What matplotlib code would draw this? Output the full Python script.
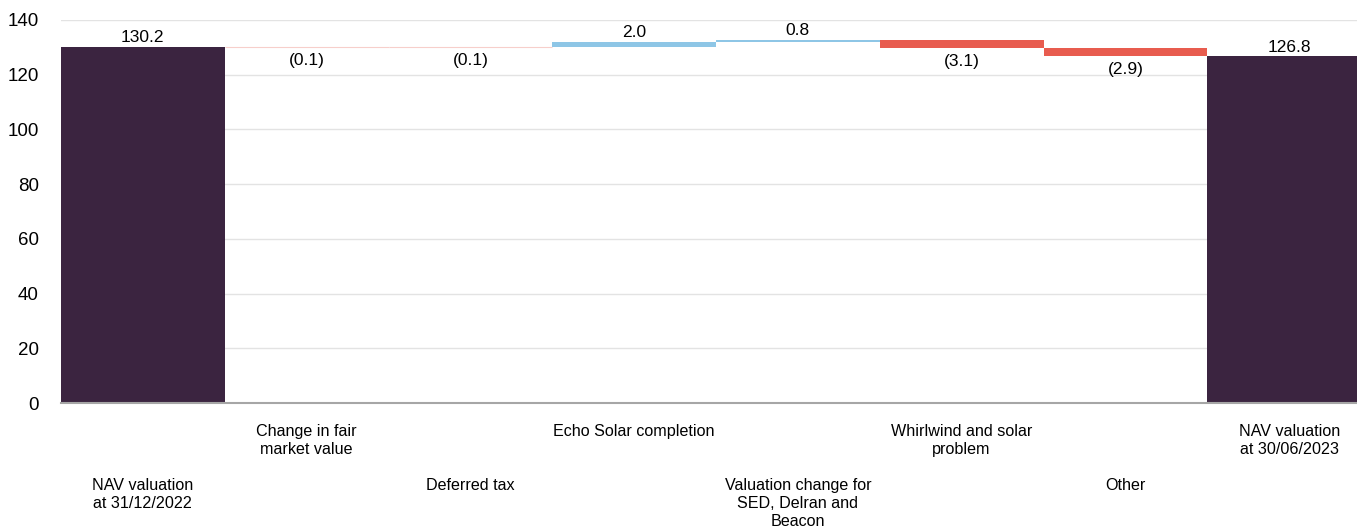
import numpy as np
import matplotlib.pyplot as plt

plt.rcParams['font.family'] = ['Liberation Sans', 'DejaVu Sans']

# Data
categories = ['NAV valuation\nat 31/12/2022', 'Change in fair\nmarket value', 'Deferred tax',
              'Echo Solar completion', 'Valuation change for\nSED, Delran and\nBeacon',
              'Whirlwind and solar\nproblem', 'Other', 'NAV valuation\nat 30/06/2023']
start_value = 130.2
changes = [-0.1, -0.1, 2.0, 0.8, -3.1, -2.9]
end_value = 126.8

total_color = '#3B2440'
up_color = '#8EC6E6'
down_color = '#E85C4F'

fig = plt.figure(figsize=(13.57, 5.30), dpi=100)
# plot area runs a little past the right edge of the picture, as in the source
ax = fig.add_axes([61 / 1357, 127 / 530, 1310 / 1357, (403 - 20) / 530])

# start total
ax.bar(0, start_value, width=1.0, color=total_color, zorder=3)
ax.annotate(f'{start_value:.1f}', (0, start_value), xytext=(0, 1), textcoords='offset points',
            ha='center', va='bottom', fontsize=12.5)

running = start_value
for i, ch in enumerate(changes, start=1):
    if ch >= 0:
        ax.bar(i, ch, bottom=running, width=1.0, color=up_color, zorder=3)
        ax.annotate(f'{ch:.1f}', (i, running + ch), xytext=(0, 1), textcoords='offset points',
                    ha='center', va='bottom', fontsize=12.5)
    else:
        if abs(ch) > 0.5:
            ax.bar(i, ch, bottom=running, width=1.0, color=down_color, zorder=3)
        else:
            # tiny moves show only as a faint line
            ax.bar(i, ch, bottom=running, width=1.0, color='#F7CFCB',
                   edgecolor='#F7CFCB', linewidth=0.8, zorder=3)
        ax.annotate(f'({abs(ch):.1f})', (i, running + ch), xytext=(0, -4), textcoords='offset points',
                    ha='center', va='top', fontsize=12.5)
    running += ch

n = len(categories) - 1
ax.bar(n, end_value, width=1.0, color=total_color, zorder=3)
ax.annotate(f'{end_value:.1f}', (n, end_value), xytext=(0, 1), textcoords='offset points',
            ha='center', va='bottom', fontsize=12.5)

ax.set_xlim(-0.5, n + 0.5)
ax.set_ylim(0, 140)
ax.set_yticks(np.arange(0, 141, 20))
ax.tick_params(axis='y', length=0, labelsize=13.5, pad=16)
ax.set_xticks([])
ax.grid(axis='y', color='#E3E3E3', linewidth=1, zorder=0)
for s in ['top', 'right', 'left']:
    ax.spines[s].set_visible(False)
ax.spines['bottom'].set_color('#A6A6A6')
ax.spines['bottom'].set_linewidth(1.5)
ax.spines['bottom'].set_zorder(4)

# staggered category labels
for i, lab in enumerate(categories):
    y_off = -15 if i % 2 == 1 else -54
    ax.annotate(lab, (i, 0), xytext=(0, y_off), textcoords='offset points',
                ha='center', va='top', fontsize=11.6, linespacing=1.25)

fig.savefig('out.png', dpi=100)
